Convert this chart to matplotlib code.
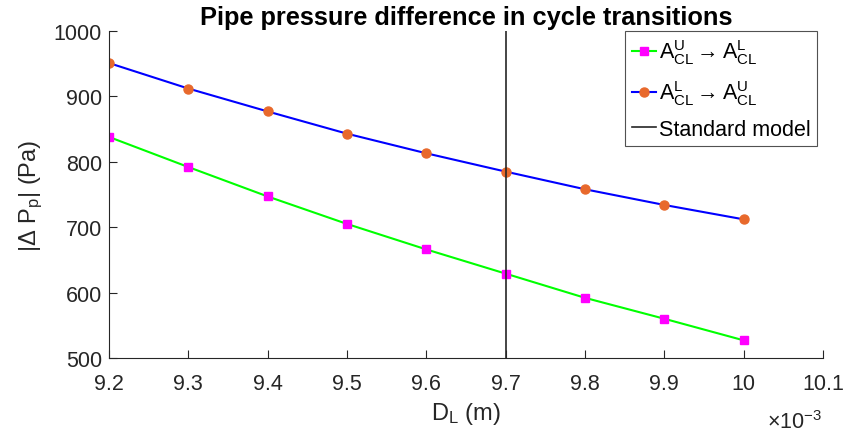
import matplotlib
matplotlib.use("Agg")
import matplotlib.pyplot as plt

plt.rcParams['font.family'] = ['Liberation Sans', 'DejaVu Sans']
plt.rcParams['mathtext.fontset'] = 'custom'
plt.rcParams['mathtext.rm'] = 'Liberation Sans'
plt.rcParams['mathtext.it'] = 'Liberation Sans'

D_L = [9.2, 9.3, 9.4, 9.5, 9.6, 9.7, 9.8, 9.9, 10.0]
dp_UL = [838, 792, 747, 705, 666, 629, 592, 560, 527]
dp_LU = [951, 912, 877, 843, 813, 785, 758, 734, 712]
standard_D = 9.7
xticks = [9.2, 9.3, 9.4, 9.5, 9.6, 9.7, 9.8, 9.9, 10.0, 10.1]
xticklabels = ['9.2', '9.3', '9.4', '9.5', '9.6', '9.7', '9.8', '9.9', '10', '10.1']
yticks = [500, 600, 700, 800, 900, 1000]

W, H = 846, 439
fig = plt.figure(figsize=(W/100, H/100), dpi=100)
ax = fig.add_axes([109/W, 1-359/H, (823-109)/W, (359-32)/H])

ax.plot(D_L, dp_UL, color='#00ff00', lw=1.5, marker='s', ms=5.5,
        mfc='#ff00ff', mec='#ff00ff',
        label=r'$\mathrm{A}^{\mathrm{U}}_{\mathrm{CL}}\rightarrow \mathrm{A}^{\mathrm{L}}_{\mathrm{CL}}$')
ax.plot(D_L, dp_LU, color='#0000ff', lw=1.5, marker='o', ms=6.5,
        mfc='#e8692c', mec='#e8692c',
        label=r'$\mathrm{A}^{\mathrm{L}}_{\mathrm{CL}}\rightarrow \mathrm{A}^{\mathrm{U}}_{\mathrm{CL}}$')
ax.axvline(standard_D, color='#262626', lw=1.2, label='Standard model')

ax.set_xlim(9.2, 10.1)
ax.set_ylim(500, 1000)
ax.set_xticks(xticks)
ax.set_xticklabels(xticklabels)
ax.set_yticks(yticks)
ax.spines['top'].set_visible(False)
ax.spines['right'].set_visible(False)
for s in ax.spines.values():
    s.set_color('#262626')
    s.set_linewidth(0.8)
ax.tick_params(direction='in', length=6, labelsize=15.5, colors='#262626')
ax.tick_params(axis='x', pad=11)
ax.tick_params(axis='y', pad=5)

ax.set_xlabel(r'D$_{\mathrm{L}}$ (m)', fontsize=17, color='#262626', labelpad=4)
ax.set_ylabel(r'|$\Delta$ P$_{\mathrm{p}}$| (Pa)', fontsize=17, color='#262626', labelpad=6)
ax.set_title('Pipe pressure difference in cycle transitions', fontsize=18.3,
             fontweight='bold', pad=5)
ax.text(0.96, -0.195, r'$\times$10$^{-3}$', transform=ax.transAxes, fontsize=15.5,
        ha='center', va='center', color='#262626')

bx = (817-109)/(823-109)
leg = ax.legend(loc='upper right', bbox_to_anchor=(bx, 1.0), fontsize=15.5,
                frameon=True, fancybox=False,
                edgecolor='#262626', borderpad=0.3, labelspacing=0.55,
                handlelength=1.1, handletextpad=0.15, borderaxespad=0.0)
leg.get_frame().set_linewidth(0.8)

fig.savefig('out.png', dpi=100)
